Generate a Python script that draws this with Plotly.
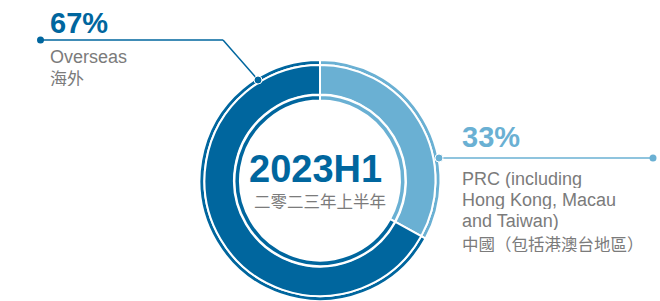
import plotly.graph_objects as go

# ---- data ----
regions_en = ["PRC (including Hong Kong, Macau and Taiwan)", "Overseas"]
regions_zh = ["中國（包括港澳台地區）", "海外"]
shares = [33, 67]
period_en = "2023H1"
period_zh = "二零二三年上半年"

# ---- style ----
DARK = "#00669e"
LIGHT = "#6ab0d3"
GREY = "#7b7b7b"
W, H = 660, 301
CX, CY = 320, 180.5  # donut centre in px (from top-left)
FONT = "Liberation Sans, Arial, Noto Sans CJK TC, sans-serif"
FONT_ZH = "Noto Sans CJK TC, sans-serif"


def dom(r):
    ybot = H - CY
    return dict(x=[(CX - r) / W, (CX + r) / W],
                y=[max(0, (ybot - r) / H), min(1, (ybot + r) / H)])


fig = go.Figure()
# (outer radius, inner radius) of each ring, stroke of 2 px white eats 1 px per side
rings = [(120.5, 115.5), (115.5, 86.0), (85.5, 80.0)]
for ro, ri in rings:
    fig.add_trace(go.Pie(
        values=shares, labels=regions_en, sort=False, direction="clockwise",
        rotation=0, hole=ri / ro, domain=dom(ro),
        marker=dict(colors=[LIGHT, DARK], line=dict(color="white", width=2)),
        textinfo="none", hoverinfo="skip", showlegend=False))

fig.update_layout(
    width=W, height=H, margin=dict(l=0, r=0, t=0, b=0),
    paper_bgcolor="white", plot_bgcolor="rgba(0,0,0,0)",
    xaxis=dict(range=[0, W], visible=False, fixedrange=True),
    yaxis=dict(range=[H, 0], visible=False, fixedrange=True),
)

# leader lines and dots
shapes = []
def seg(x0, y0, x1, y1, c):
    shapes.append(dict(type="line", xref="x", yref="y", x0=x0, y0=y0, x1=x1, y1=y1,
                       line=dict(color=c, width=1.5), layer="above"))
def dot(x, y, c, r=3.5, outline=False):
    shapes.append(dict(type="circle", xref="x", yref="y", x0=x - r, x1=x + r, y0=y - r, y1=y + r,
                       fillcolor=c, line=dict(color="white" if outline else c, width=1 if outline else 0),
                       layer="above"))

seg(40.5, 40, 223, 40, DARK)
seg(223, 40, 258, 80, DARK)
dot(40.5, 40, DARK)
dot(258, 80, DARK, r=4, outline=True)

seg(439, 158, 653, 158, LIGHT)
dot(653, 158, LIGHT)
dot(439, 158, LIGHT, r=4, outline=True)
fig.update_layout(shapes=shapes)

ann = []
def txt(x, y, s, size, color, bold=False, xanchor="left", family=FONT):
    ann.append(dict(x=x, y=y, xref="x", yref="y", text=s, showarrow=False,
                    xanchor=xanchor, yanchor="middle", height=round(size) + 1,
                    font=dict(size=size, color=color, family=family,
                              weight="bold" if bold else "normal")))

txt(48, 23, f"{shares[1]}%", 29, DARK, bold=True)
txt(48, 56.5, regions_en[1], 18, GREY)
txt(48, 76.5, regions_zh[1], 17, GREY, family=FONT_ZH)

txt(460, 137, f"{shares[0]}%", 29, LIGHT, bold=True)
txt(460, 178, "PRC (including", 18, GREY)
txt(460, 199.5, "Hong Kong, Macau", 18, GREY)
txt(460, 220.5, "and Taiwan)", 18, GREY)
txt(460, 243, regions_zh[0], 16.5, GREY, family=FONT_ZH)

txt(315, 168, period_en, 38, DARK, bold=True, xanchor="center")
txt(320, 200.5, period_zh, 16.5, GREY, xanchor="center", family=FONT_ZH)
fig.update_layout(annotations=ann)

fig.write_html("out.html", config={"displayModeBar": False},
               post_script="document.body.style.margin='0';document.body.style.overflow='hidden';")
